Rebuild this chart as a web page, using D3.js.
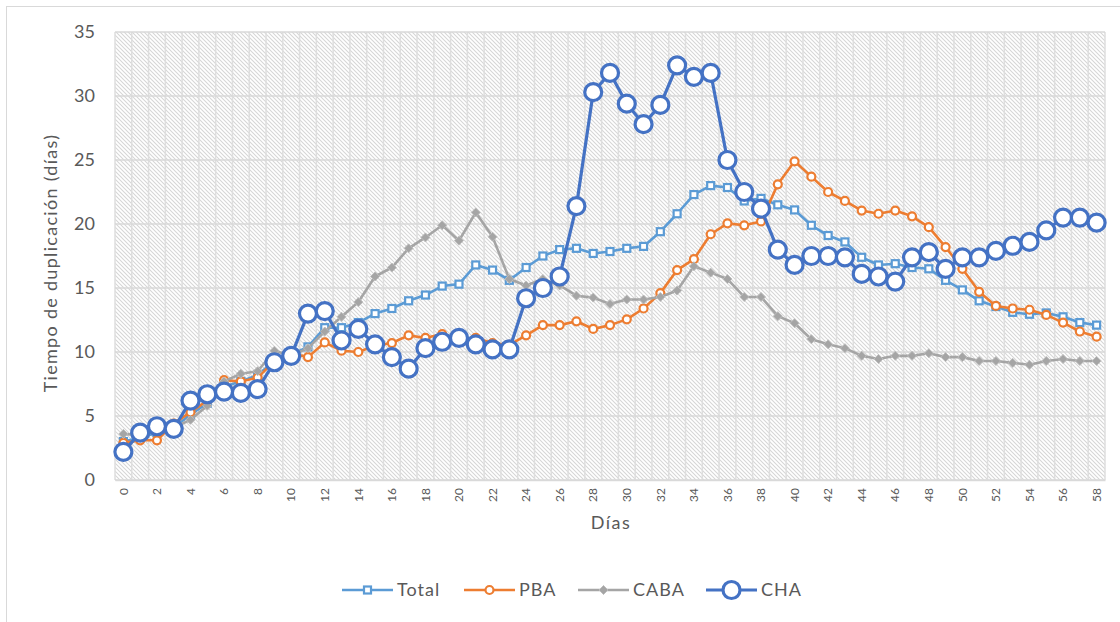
<!DOCTYPE html>
<html>
<head>
<meta charset="utf-8">
<script src="https://cdn.jsdelivr.net/npm/d3@7"></script>
<style>
  body { margin: 0; background: #fff; }
  text { font-family: Lato, "Open Sans", sans-serif; fill: #595959; }
</style>
</head>
<body>
<div id="chart"></div>
<script>
// chart data
var days = d3.range(0, 59);
var total = [3.0, 3.3, 3.7, 4.1, 5.1, 6.0, 7.3, 7.7, 8.2, 9.3,
  9.8, 10.4, 11.9, 11.9, 12.3, 13.0, 13.4, 14.0, 14.45, 15.15,
  15.3, 16.8, 16.4, 15.6, 16.6, 17.5, 18.0, 18.1, 17.7, 17.85,
  18.1, 18.25, 19.4, 20.8, 22.3, 23.0, 22.85, 21.8, 22.0, 21.5,
  21.1, 19.9, 19.1, 18.6, 17.4, 16.8, 16.9, 16.6, 16.5, 15.6,
  14.85, 14.0, 13.55, 13.1, 12.95, 13.05, 12.75, 12.3, 12.1];
var pba = [2.9, 3.1, 3.1, 4.4, 5.3, 6.2, 7.8, 7.7, 8.0, 9.3,
  9.9, 9.6, 10.75, 10.1, 10.0, 10.5, 10.7, 11.3, 11.1, 11.4,
  11.0, 11.1, 10.7, 10.55, 11.3, 12.1, 12.1, 12.4, 11.8, 12.1,
  12.55, 13.4, 14.6, 16.4, 17.25, 19.2, 20.05, 19.9, 20.2, 23.1,
  24.9, 23.7, 22.5, 21.8, 21.05, 20.8, 21.05, 20.6, 19.75, 18.2,
  16.5, 14.7, 13.6, 13.4, 13.3, 12.9, 12.3, 11.6, 11.2];
var caba = [3.6, 3.5, 3.9, 4.1, 4.7, 5.8, 7.7, 8.3, 8.5, 10.1,
  9.7, 10.3, 11.6, 12.75, 13.9, 15.9, 16.6, 18.1, 18.95, 19.9,
  18.7, 20.9, 19.0, 15.7, 15.2, 15.7, 15.2, 14.4, 14.25, 13.75,
  14.1, 14.1, 14.3, 14.8, 16.7, 16.2, 15.7, 14.3, 14.3, 12.8,
  12.25, 11.0, 10.6, 10.3, 9.7, 9.45, 9.7, 9.7, 9.9, 9.6,
  9.6, 9.3, 9.3, 9.15, 9.0, 9.3, 9.45, 9.3, 9.3];
var cha = [2.2, 3.7, 4.2, 4.0, 6.2, 6.7, 6.9, 6.8, 7.1, 9.2,
  9.7, 13.0, 13.2, 10.9, 11.8, 10.6, 9.6, 8.7, 10.3, 10.8,
  11.1, 10.6, 10.2, 10.2, 14.2, 15.0, 15.9, 21.4, 30.3, 31.8,
  29.4, 27.8, 29.3, 32.4, 31.5, 31.8, 25.0, 22.5, 21.2, 18.0,
  16.8, 17.5, 17.5, 17.4, 16.1, 15.9, 15.5, 17.4, 17.8, 16.5,
  17.4, 17.4, 17.9, 18.3, 18.6, 19.5, 20.5, 20.5, 20.1];
var seriesNames = ["Total", "PBA", "CABA", "CHA"];
var yTicks = [0, 5, 10, 15, 20, 25, 30, 35];

var width = 1120;
var height = 622;
var plotLeft = 115, plotRight = 1105, plotTop = 32, plotBottom = 480;

var svg = d3.select("#chart").append("svg")
  .attr("width", width)
  .attr("height", height);

// hatch fill for the plot area
var defs = svg.append("defs");
defs.append("pattern")
  .attr("id", "hatch")
  .attr("patternUnits", "userSpaceOnUse")
  .attr("width", 4).attr("height", 4)
  .append("path")
  .attr("d", "M-1,-1L5,5M-1,3L1,5M3,-1L5,1")
  .attr("stroke", "#d6d6d6")
  .attr("stroke-width", 1.1);

// outer chart border (only top/left visible in the picture)
svg.append("rect")
  .attr("x", 6.5).attr("y", 6.5)
  .attr("width", 1120).attr("height", 640)
  .attr("fill", "none")
  .attr("stroke", "#d9d9d9");

var x = d3.scaleBand().domain(days).range([plotLeft, plotRight]);
var y = d3.scaleLinear().domain([0, 35]).range([plotBottom, plotTop]);
function cx(i) { return x(days[i]) + x.bandwidth() / 2; }

svg.append("rect")
  .attr("x", plotLeft).attr("y", plotTop)
  .attr("width", plotRight - plotLeft).attr("height", plotBottom - plotTop)
  .attr("fill", "url(#hatch)");

// vertical gridlines at category boundaries
var bounds = days.map(function(d) { return x(d); }).concat([plotRight]);
svg.append("g").selectAll("line")
  .data(bounds)
  .enter().append("line")
  .attr("x1", function(d) { return d; })
  .attr("x2", function(d) { return d; })
  .attr("y1", plotTop).attr("y2", plotBottom)
  .attr("stroke", "#dedede")
  .attr("stroke-width", 1.5);

// horizontal gridlines
svg.append("g").selectAll("line")
  .data(yTicks)
  .enter().append("line")
  .attr("x1", plotLeft).attr("x2", plotRight)
  .attr("y1", function(d) { return y(d); })
  .attr("y2", function(d) { return y(d); })
  .attr("stroke", "#d9d9d9")
  .attr("stroke-width", 1.5);

// y axis
var yAxis = svg.append("g")
  .attr("transform", "translate(" + plotLeft + ",0)")
  .call(d3.axisLeft(y).tickValues(yTicks).tickSize(0).tickPadding(20));
yAxis.select(".domain").remove();
yAxis.selectAll("text")
  .style("font-size", "18px")
  .style("font-family", "Lato, sans-serif")
  .attr("fill", "#595959");

// x axis
var xAxis = svg.append("g")
  .attr("transform", "translate(0," + plotBottom + ")")
  .call(d3.axisBottom(x)
    .tickValues(days.filter(function(d) { return d % 2 === 0; }))
    .tickSize(0));
xAxis.select(".domain").attr("stroke", "#d9d9d9").attr("stroke-width", 1.5);
xAxis.selectAll("text")
  .attr("transform", "rotate(-90)")
  .attr("x", -8).attr("y", 0)
  .attr("dy", "0.35em")
  .style("text-anchor", "end")
  .style("font-size", "12px")
  .style("font-family", "Lato, sans-serif")
  .attr("fill", "#595959");

// axis titles
svg.append("text")
  .attr("transform", "translate(57,263) rotate(-90)")
  .attr("text-anchor", "middle")
  .style("font-size", "18px")
  .style("letter-spacing", "1.3px")
  .text("Tiempo de duplicación (días)");
svg.append("text")
  .attr("x", 611).attr("y", 529)
  .attr("text-anchor", "middle")
  .style("font-size", "18px")
  .style("letter-spacing", "1.5px")
  .text("Días");

var line = d3.line()
  .x(function(d, i) { return cx(i); })
  .y(function(d) { return y(d); });

var styles = [
  { values: total, color: "#5B9BD5", width: 2.6, marker: "square" },
  { values: pba, color: "#ED7D31", width: 2.6, marker: "circle" },
  { values: caba, color: "#A5A5A5", width: 2.6, marker: "diamond" },
  { values: cha, color: "#4472C4", width: 3.2, marker: "big" }
];

function drawMarker(g, kind, color) {
  if (kind === "square") {
    g.append("rect").attr("x", -3.5).attr("y", -3.5).attr("width", 7).attr("height", 7)
      .attr("fill", "#fff").attr("stroke", color).attr("stroke-width", 2.2);
  } else if (kind === "circle") {
    g.append("circle").attr("r", 4)
      .attr("fill", "#fff").attr("stroke", color).attr("stroke-width", 2.2);
  } else if (kind === "diamond") {
    g.append("path").attr("d", "M0,-4.5L4.5,0L0,4.5L-4.5,0Z")
      .attr("fill", color).attr("stroke", "#bdbdbd").attr("stroke-width", 1);
  } else {
    g.append("circle").attr("r", 8.5)
      .attr("fill", "#fff").attr("stroke", color).attr("stroke-width", 3.2);
  }
}

styles.forEach(function(s) {
  var g = svg.append("g");
  g.append("path")
    .datum(s.values)
    .attr("d", line)
    .attr("fill", "none")
    .attr("stroke", s.color)
    .attr("stroke-width", s.width)
    .attr("stroke-linejoin", "round");
  g.selectAll("g.pt")
    .data(s.values)
    .enter().append("g")
    .attr("class", "pt")
    .attr("transform", function(d, i) { return "translate(" + cx(i) + "," + y(d) + ")"; })
    .each(function() { drawMarker(d3.select(this), s.marker, s.color); });
});

// legend
var legendX = [342, 464, 578, 706];
seriesNames.forEach(function(name, i) {
  var s = styles[i];
  var g = svg.append("g").attr("transform", "translate(" + legendX[i] + ",590)");
  g.append("line").attr("x1", 0).attr("x2", 51).attr("y1", 0).attr("y2", 0)
    .attr("stroke", s.color).attr("stroke-width", s.width);
  var m = g.append("g").attr("transform", "translate(25.5,0)");
  drawMarker(m, s.marker, s.color);
  g.append("text").attr("x", 55).attr("y", 0).attr("dy", "0.35em")
    .style("font-size", "18px").style("letter-spacing", "1px").text(name);
});
</script>
</body>
</html>
